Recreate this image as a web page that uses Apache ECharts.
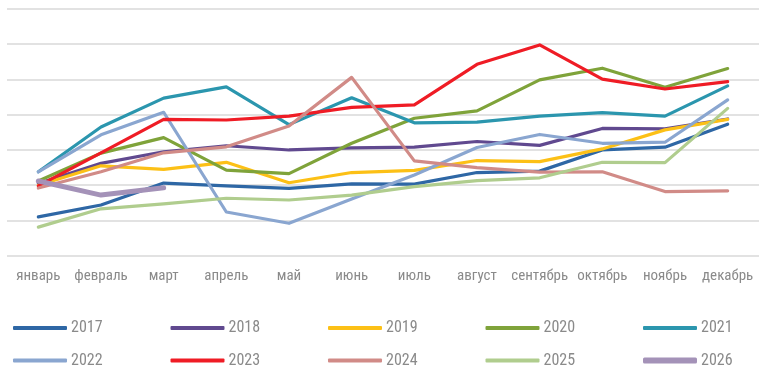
<!DOCTYPE html>
<html>
<head>
<meta charset="utf-8">
<script src="https://cdn.jsdelivr.net/npm/echarts@6/dist/echarts.min.js"></script>
<style>
  html, body { margin: 0; padding: 0; background: #fff; }
  #chart { width: 759px; height: 366px; }
</style>
</head>
<body>
<div id="chart"></div>
<script>
const months = ['январь', 'февраль', 'март', 'апрель', 'май', 'июнь', 'июль', 'август', 'сентябрь', 'октябрь', 'ноябрь', 'декабрь'];
const years = ['2017', '2018', '2019', '2020', '2021', '2022', '2023', '2024', '2025', '2026'];

const v2017 = [1.10, 1.44, 2.06, 1.98, 1.91, 2.04, 2.03, 2.36, 2.40, 3.00, 3.08, 3.73];
const v2018 = [2.05, 2.62, 2.95, 3.12, 3.00, 3.06, 3.08, 3.24, 3.13, 3.61, 3.60, 3.88];
const v2019 = [2.00, 2.55, 2.45, 2.65, 2.07, 2.36, 2.42, 2.70, 2.67, 3.03, 3.57, 3.87];
const v2020 = [2.12, 2.91, 3.35, 2.43, 2.33, 3.19, 3.90, 4.11, 4.99, 5.32, 4.78, 5.31];
const v2021 = [2.38, 3.65, 4.47, 4.79, 3.72, 4.48, 3.77, 3.79, 3.96, 4.06, 3.96, 4.82];
const v2022 = [2.38, 3.43, 4.07, 1.24, 0.92, 1.61, 2.29, 3.07, 3.44, 3.19, 3.22, 4.42];
const v2023 = [1.98, 2.92, 3.87, 3.85, 3.96, 4.21, 4.28, 5.43, 5.98, 5.01, 4.73, 4.94];
const v2024 = [1.92, 2.38, 2.92, 3.09, 3.68, 5.06, 2.69, 2.50, 2.37, 2.38, 1.82, 1.84];
const v2025 = [0.81, 1.33, 1.47, 1.63, 1.58, 1.72, 1.96, 2.13, 2.21, 2.65, 2.64, 4.18];
const v2026 = [2.12, 1.72, 1.93];

const seriesValues = [v2017, v2018, v2019, v2020, v2021, v2022, v2023, v2024, v2025, v2026];
const colors = ['#2e67a5', '#60498f', '#fcc016', '#7fa33a', '#2b96ae', '#8aa6d0', '#ef1c25', '#d18b87', '#b0cd8e', '#a492b8'];

// narrow Roboto face for the labels
const FONT = "Roboto, 'Liberation Sans Narrow', sans-serif";
const TEXT = '#8a8a8a';

// one legend block per year, two rows of five
const legends = years.map(function (y, i) {
  const col = i % 5, row = Math.floor(i / 5);
  return {
    data: [y],
    left: 8 + col * 157.5,
    top: 315 + row * 32.6,
    itemWidth: 54,
    itemHeight: y === '2026' ? 6 : 4,
    itemGap: 0,
    icon: 'roundRect',
    textStyle: { color: TEXT, fontSize: 16, fontFamily: FONT, fontWeight: 'condensed', padding: [0, 0, 0, -1] },
    selectedMode: false
  };
});

const chart = echarts.init(document.getElementById('chart'), null, { renderer: 'canvas' });
chart.setOption({
  animation: false,
  color: colors,
  legend: legends,
  grid: { left: 7, width: 756, top: 9, height: 246.7, containLabel: false },
  xAxis: {
    type: 'category',
    data: months,
    boundaryGap: true,
    axisLine: { show: false },
    axisTick: { show: false },
    axisLabel: { color: TEXT, fontSize: 15, fontFamily: FONT, fontWeight: 'condensed', margin: 13, interval: 0 }
  },
  yAxis: {
    type: 'value',
    min: 0,
    max: 7,
    interval: 1,
    axisLabel: { show: false },
    axisLine: { show: false },
    axisTick: { show: false },
    splitLine: { lineStyle: { color: '#e2e2e2', width: 2 } }
  },
  series: years.map(function (y, i) {
    return {
      name: y,
      type: 'line',
      data: seriesValues[i],
      symbol: 'none',
      lineStyle: { width: y === '2026' ? 5 : 3.2, color: colors[i], cap: 'round', join: 'round' },
      itemStyle: { color: colors[i] }
    };
  })
});
</script>
</body>
</html>
